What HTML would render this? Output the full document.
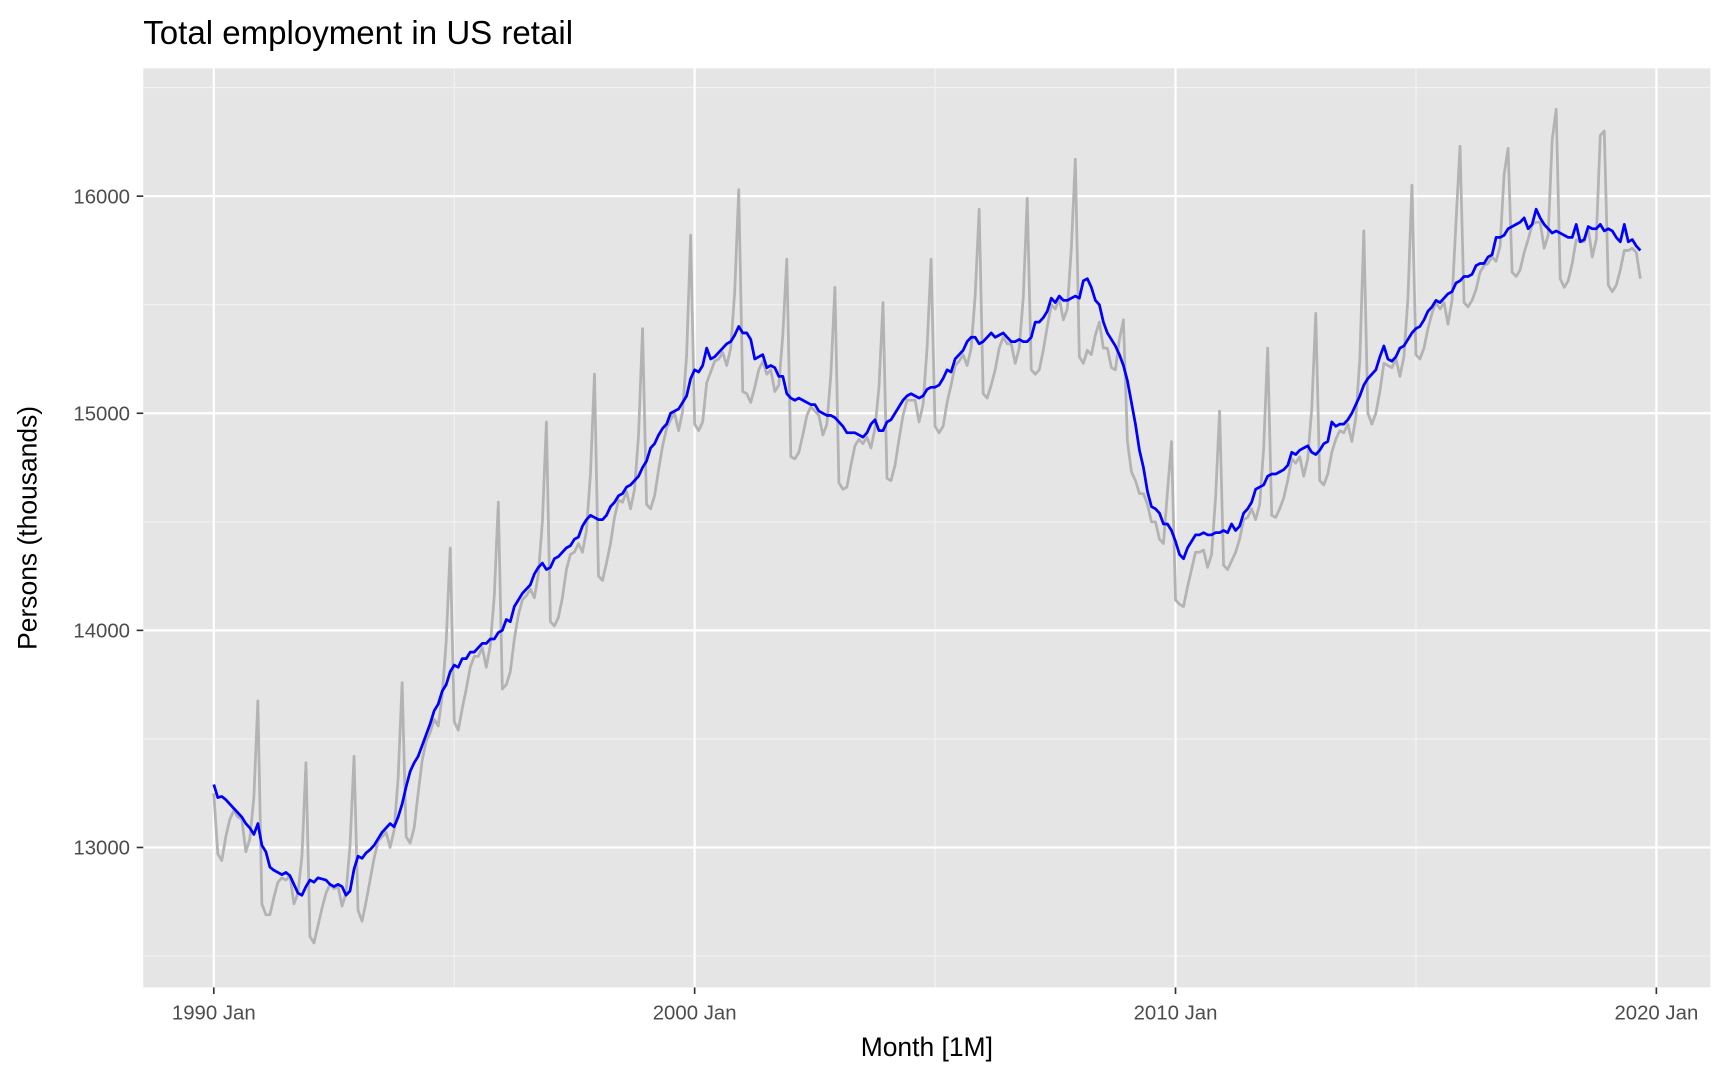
<!DOCTYPE html>
<html><head><meta charset="utf-8"><style>
html,body{margin:0;padding:0;background:#fff;}
svg{display:block;font-family:"Liberation Sans",Arial,sans-serif;}
</style></head><body>
<svg id="chart" width="1728" height="1080" viewBox="0 0 1568 980" xmlns="http://www.w3.org/2000/svg">
<text x="130" y="40" font-size="30" fill="#000">Total employment in US retail</text>
<rect x="130" y="62" width="1422" height="834" fill="#e5e5e5"/>
<g id="grid"></g>
<g id="series"></g>
<g id="axes"></g>
<text x="841" y="958" font-size="24" text-anchor="middle" fill="#000">Month [1M]</text>
<text x="0" y="0" transform="translate(33,479) rotate(-90)" font-size="24" text-anchor="middle" fill="#000">Persons (thousands)</text>
</svg>
<script>
const startYear = 1990;
const sa = [
13290,13230,13235,13220,13200,13180,13160,13140,13110,13090,13060,13110,
13010,12980,12910,12895,12885,12875,12885,12870,12830,12790,12780,12820,
12850,12840,12860,12855,12850,12830,12820,12830,12820,12780,12800,12900,
12960,12950,12975,12990,13010,13040,13070,13090,13110,13095,13140,13200,
13280,13350,13390,13420,13470,13520,13570,13630,13660,13720,13750,13810,
13840,13830,13870,13870,13900,13900,13920,13940,13940,13960,13960,13990,
14000,14050,14040,14110,14140,14170,14190,14210,14260,14290,14310,14280,
14290,14330,14340,14360,14380,14390,14420,14430,14480,14510,14530,14520,
14510,14510,14530,14570,14590,14620,14630,14660,14670,14690,14710,14750,
14780,14840,14860,14900,14930,14950,15000,15010,15020,15050,15080,15160,
15200,15190,15220,15300,15250,15260,15280,15300,15320,15330,15360,15400,
15370,15370,15340,15250,15260,15270,15210,15220,15210,15170,15170,15090,
15070,15060,15070,15060,15050,15040,15040,15010,15000,14990,14990,14980,
14960,14940,14910,14910,14910,14900,14890,14910,14950,14970,14920,14920,
14960,14970,15000,15030,15060,15080,15090,15080,15070,15080,15110,15120,
15120,15130,15160,15200,15190,15250,15270,15290,15330,15350,15350,15320,
15330,15350,15370,15350,15360,15370,15350,15330,15330,15340,15330,15330,
15350,15420,15420,15440,15470,15530,15510,15540,15520,15520,15530,15540,
15530,15610,15620,15580,15520,15500,15420,15370,15340,15310,15270,15220,
15150,15050,14950,14830,14750,14640,14570,14560,14540,14490,14490,14460,
14410,14350,14330,14380,14410,14440,14440,14450,14440,14440,14450,14450,
14460,14450,14490,14460,14480,14540,14560,14590,14650,14660,14670,14710,
14720,14720,14730,14740,14760,14820,14810,14830,14840,14850,14820,14810,
14830,14860,14870,14960,14940,14950,14950,14970,15000,15040,15080,15130,
15160,15180,15200,15260,15310,15250,15240,15260,15300,15310,15340,15370,
15390,15400,15430,15470,15490,15520,15510,15530,15550,15560,15600,15610,
15630,15630,15640,15680,15690,15690,15720,15730,15810,15810,15820,15850,
15860,15870,15880,15900,15850,15870,15940,15900,15870,15850,15830,15840,
15830,15820,15810,15810,15870,15790,15800,15860,15850,15850,15870,15840,
15850,15840,15810,15790,15870,15790,15800,15770,15750
];
const raw = [
13250,12970,12940,13050,13130,13170,13140,13130,12980,13040,13230,13675,
12740,12690,12690,12770,12840,12860,12850,12870,12740,12790,12960,13390,
12590,12560,12640,12720,12790,12830,12810,12820,12730,12790,13010,13420,
12710,12660,12750,12850,12950,13030,13050,13070,13000,13080,13320,13760,
13050,13020,13090,13250,13400,13490,13530,13590,13560,13700,13950,14380,
13580,13540,13640,13730,13830,13880,13880,13920,13830,13930,14160,14590,
13730,13750,13810,13960,14070,14140,14160,14190,14150,14260,14500,14960,
14040,14020,14060,14150,14280,14350,14360,14400,14360,14460,14720,15180,
14250,14230,14310,14400,14520,14600,14590,14640,14560,14650,14900,15390,
14580,14560,14620,14740,14850,14930,14970,15000,14920,15010,15270,15820,
14950,14920,14960,15140,15190,15240,15250,15280,15220,15300,15560,16030,
15100,15090,15050,15120,15200,15240,15180,15200,15100,15130,15360,15710,
14800,14790,14820,14900,14990,15030,15010,14990,14900,14950,15180,15580,
14680,14650,14660,14760,14850,14880,14860,14890,14840,14930,15120,15510,
14700,14690,14760,14880,14990,15060,15060,15060,14960,15040,15300,15710,
14940,14910,14940,15050,15130,15220,15240,15270,15220,15300,15540,15940,
15090,15070,15130,15200,15300,15350,15320,15320,15230,15300,15530,15990,
15200,15180,15200,15290,15400,15500,15480,15530,15430,15480,15760,16170,
15260,15230,15290,15270,15360,15420,15300,15300,15210,15200,15340,15430,
14870,14730,14690,14630,14630,14580,14500,14500,14420,14400,14640,14870,
14140,14120,14110,14200,14280,14360,14360,14370,14290,14350,14610,15010,
14300,14280,14320,14360,14420,14510,14520,14560,14510,14580,14840,15300,
14530,14520,14560,14610,14690,14790,14770,14800,14710,14790,15020,15460,
14690,14670,14720,14820,14880,14920,14910,14950,14870,14980,15250,15840,
15000,14950,15000,15100,15230,15220,15210,15250,15170,15260,15530,16050,
15270,15250,15300,15390,15460,15510,15480,15510,15410,15520,15880,16230,
15510,15490,15520,15570,15650,15680,15690,15720,15700,15770,16100,16220,
15650,15630,15660,15740,15800,15870,15880,15880,15760,15820,16260,16400,
15620,15580,15610,15690,15800,15790,15790,15850,15720,15800,16280,16300,
15590,15560,15590,15660,15750,15750,15760,15740,15620
];
const yTicks = [13000,14000,15000,16000];
const yMinor = [12500,13500,14500,15500,16500];
const xTickYears = [1990,2000,2010,2020];
const xTickLabels = ["1990 Jan","2000 Jan","2010 Jan","2020 Jan"];
const xMinorYears = [1995,2005,2015];

const NS = "http://www.w3.org/2000/svg";
function xScale(monthIndex){ return 194 + monthIndex * (1503-194) / 360; }
function yScale(v){ return 769 - (v - 13000) * (769-178) / 3000; }
function mk(tag, attrs, parent){ const e = document.createElementNS(NS, tag); for (const k in attrs) e.setAttribute(k, attrs[k]); parent.appendChild(e); return e; }

const grid = document.getElementById('grid');
const axes = document.getElementById('axes');
const series = document.getElementById('series');

yMinor.forEach(v => {
  const l = mk('line', {x1:130, x2:1552, y1:yScale(v), y2:yScale(v), stroke:'#f2f2f2', 'stroke-width':1}, grid);
  
  
});
xMinorYears.forEach(yr => {
  const x = xScale((yr - startYear) * 12);
  const l = mk('line', {x1:x, x2:x, y1:62, y2:896, stroke:'#f2f2f2', 'stroke-width':1}, grid);
  
  
});
yTicks.forEach(v => {
  const y = yScale(v);
  const l = mk('line', {x1:130, x2:1552, y1:y, y2:y, stroke:'#fff', 'stroke-width':2}, grid);
  
  
  const t = mk('line', {x1:124, x2:130, y1:y, y2:y, stroke:'#333', 'stroke-width':1.5}, axes);
  
  
  const tx = mk('text', {x:118, y:y+6.5, 'font-size':18.5, fill:'#4d4d4d', 'text-anchor':'end'}, axes);
  tx.textContent = v;
  
  
});
xTickYears.forEach((yr, i) => {
  const x = xScale((yr - startYear) * 12);
  const l = mk('line', {x1:x, x2:x, y1:62, y2:896, stroke:'#fff', 'stroke-width':2}, grid);
  
  
  const t = mk('line', {x1:x, x2:x, y1:896, y2:902, stroke:'#333', 'stroke-width':1.5}, axes);
  
  
  const tx = mk('text', {x:x, y:925, 'font-size':18.5, fill:'#4d4d4d', 'text-anchor':'middle'}, axes);
  tx.textContent = xTickLabels[i];
  
  
});

function pathFor(arr){ return arr.map((v,i) => (i ? 'L' : 'M') + xScale(i).toFixed(2) + ',' + yScale(v).toFixed(2)).join(''); }
const rawLine = mk('path', {d:pathFor(raw), fill:'none', stroke:'#b3b3b3', 'stroke-width':2.5, 'stroke-linejoin':'round'}, series);


const saLine = mk('path', {d:pathFor(sa), fill:'none', stroke:'#0000ff', 'stroke-width':2.5, 'stroke-linejoin':'round'}, series);


</script>
</body></html>
